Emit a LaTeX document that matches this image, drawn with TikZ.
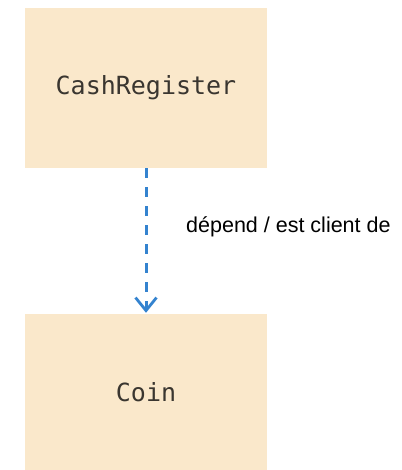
\documentclass[tikz,border=0pt]{standalone}
\usepackage{fontspec}
\setmainfont{Liberation Sans}
\newfontfamily\boxmono{DejaVu Sans Mono}
\usetikzlibrary{arrows.meta}
\definecolor{boxfill}{HTML}{FAE8CB}
\definecolor{arrowblue}{HTML}{3483CF}
\definecolor{boxtext}{HTML}{3A3630}
\begin{document}
\begin{tikzpicture}[x=1pt,y=-1pt,
  classbox/.style={fill=boxfill, draw=none, minimum width=242pt, inner sep=0pt,
    font=\boxmono\fontsize{25}{29}\selectfont, text=boxtext},
  depline/.style={draw=arrowblue, line width=3pt, dash pattern=on 10pt off 9pt,
    -{Straight Barb[length=13pt,width=21pt,line width=2.8pt]}},
  lbl/.style={font=\fontsize{21.5}{25}\selectfont, inner sep=0pt}]
\useasboundingbox (0,0) rectangle (401,470);
\node[classbox, minimum height=160pt] (cr) at (146,88) {CashRegister};
\node[classbox, minimum height=156pt] (coin) at (146,392) {Coin};
\draw[depline] (cr.south) -- ([yshift=1pt]coin.north);
\node[lbl, anchor=base west] (dep) at (186,232.7) {dépend / est client de};
\end{tikzpicture}
\end{document}
